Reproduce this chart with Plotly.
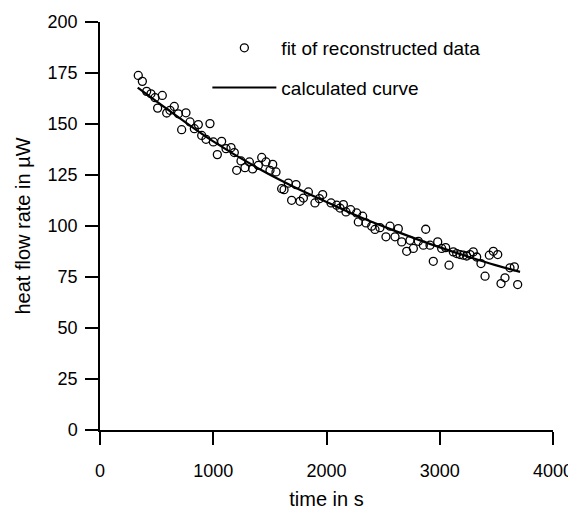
import plotly.graph_objects as go

# measured points (time in s, heat flow rate in µW)
t_points = [338, 374, 412, 450, 486, 509, 550, 589, 618, 656, 692, 721, 759, 795,
            833, 868, 898, 936, 971, 1001, 1036, 1074, 1113, 1157, 1186, 1207, 1245,
            1280, 1319, 1348, 1398, 1428, 1466, 1501, 1525, 1554, 1604, 1625, 1663,
            1692, 1731, 1766, 1796, 1840, 1898, 1937, 1966, 2040, 2090, 2119, 2149,
            2172, 2213, 2266, 2281, 2319, 2349, 2399, 2428, 2472, 2525, 2561, 2605,
            2634, 2664, 2708, 2737, 2767, 2811, 2855, 2876, 2914, 2943, 2982, 3017,
            3052, 3082, 3120, 3150, 3179, 3208, 3238, 3267, 3296, 3326, 3364, 3400,
            3438, 3473, 3512, 3541, 3576, 3620, 3659, 3688]
q_points = [173.8, 170.9, 166.0, 164.8, 162.9, 157.8, 164.0, 155.4, 156.7, 158.6, 155.0,
            147.2, 155.5, 151.0, 147.7, 149.7, 144.4, 142.5, 150.2, 141.2, 135.0, 141.5,
            137.9, 138.4, 136.0, 127.3, 131.9, 128.6, 131.4, 128.0, 129.7, 133.6, 131.4,
            127.3, 130.2, 126.5, 118.3, 117.8, 121.0, 112.6, 120.3, 112.1, 113.7, 116.7,
            111.3, 113.4, 115.4, 111.3, 110.2, 108.8, 110.5, 106.9, 108.0, 106.4, 102.0,
            104.8, 101.5, 99.9, 98.3, 99.2, 94.7, 99.9, 94.7, 98.7, 92.2, 87.6, 93.0,
            89.0, 92.5, 90.6, 98.4, 90.6, 82.7, 92.2, 89.0, 89.4, 80.8, 87.3, 86.5, 86.0,
            85.7, 85.3, 86.0, 87.3, 84.8, 81.6, 75.4, 85.7, 87.6, 86.0, 71.8, 74.6, 79.5,
            80.0, 71.3]

# calculated curve
t_curve = [333, 700, 1000, 1428, 1700, 2000, 2300, 2610, 2900, 3193, 3450, 3709]
q_curve = [167.8, 153.0, 141.5, 127.3, 119.5, 111.8, 104.3, 97.5, 91.5, 86.0, 81.5, 77.5]

x_ticks = [0, 1000, 2000, 3000, 4000]
y_ticks = [0, 25, 50, 75, 100, 125, 150, 175, 200]

FONT = "Liberation Sans, Arial, sans-serif"

fig = go.Figure()
fig.add_trace(go.Scatter(
    x=t_points, y=q_points, mode="markers", name="fit of reconstructed data",
    legendgroup="a",
    marker=dict(symbol="circle-open", size=8, color="black", line=dict(width=1.3, color="black")),
))
fig.add_trace(go.Scatter(
    x=t_curve, y=q_curve, mode="lines", name="calculated curve", legendgroup="b",
    line=dict(color="black", width=2.2, shape="spline"),
))

axis_common = dict(
    showline=True, linecolor="black", linewidth=1.5, ticks="outside", ticklen=13,
    tickwidth=1.5, tickcolor="black", showgrid=False, zeroline=False, automargin=False,
    tickfont=dict(family=FONT, size=18, color="black"),
)
fig.update_xaxes(range=[0, 4000], tickvals=x_ticks, ticklabelstandoff=11,
                 title=dict(text="time in s", font=dict(family=FONT, size=20, color="black"), standoff=12),
                 **axis_common)
fig.update_yaxes(range=[0, 200], tickvals=y_ticks, ticklabelstandoff=4,
                 title=dict(text="heat flow rate in µW", font=dict(family=FONT, size=20, color="black"), standoff=12),
                 **axis_common)

# the page body adds an 8 px offset, so the figure is 8 px smaller and shifted
fig.update_layout(
    width=568, height=502,
    margin=dict(l=92, r=23, t=13.5, b=80),
    paper_bgcolor="white", plot_bgcolor="white",
    font=dict(family=FONT, color="black"),
    legend=dict(x=0.237, y=0.983, xanchor="left", yanchor="top",
                font=dict(family=FONT, size=19, color="black"),
                bgcolor="rgba(0,0,0,0)", tracegroupgap=12, itemwidth=64),
)

fig.write_html("out.html")
